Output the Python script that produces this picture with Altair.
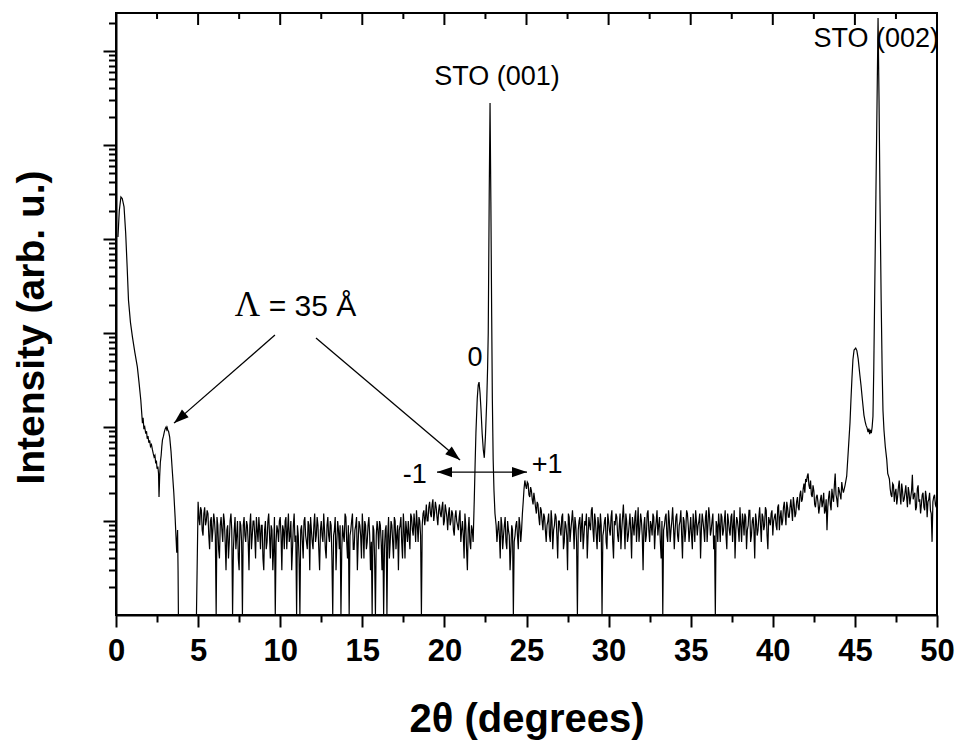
import altair as alt
import pandas as pd

# ---------------- data ----------------
low_angle = [
    (0.12, 10500), (0.2, 20000), (0.3, 28000), (0.38, 27000), (0.49, 22000),
    (0.59, 11500), (0.68, 5000), (0.76, 2240), (0.88, 1300), (1.0, 910),
    (1.15, 620), (1.3, 436), (1.4, 300), (1.51, 194), (1.61, 110), (1.65, 125),
    (1.7, 95), (1.75, 100), (1.81, 85), (1.86, 90), (1.9, 75), (1.95, 80),
    (2.0, 68), (2.05, 72), (2.1, 62), (2.16, 65), (2.22, 57), (2.27, 52),
    (2.32, 48), (2.37, 50), (2.42, 41), (2.46, 44), (2.5, 36), (2.55, 38),
    (2.59, 32), (2.62, 18), (2.66, 30), (2.7, 42), (2.75, 50), (2.79, 62),
    (2.83, 73), (2.89, 80), (2.95, 90), (3.0, 96), (3.05, 100), (3.09, 94),
    (3.12, 98), (3.16, 92), (3.2, 90), (3.27, 78), (3.35, 55), (3.44, 32),
    (3.52, 20), (3.6, 11), (3.65, 7), (3.7, 4.6), (3.75, 8), (3.78, 3),
    (3.8, 1), (4.9, 1),
]
peak_001 = [
    (21.75, 6), (21.82, 17), (21.87, 40), (21.92, 87), (22.0, 200), (22.06, 280),
    (22.11, 300), (22.17, 230), (22.23, 152), (22.3, 85), (22.37, 57), (22.43, 47),
    (22.5, 80), (22.58, 194), (22.63, 420), (22.67, 1000), (22.73, 30000),
    (22.78, 280000), (22.83, 25000), (22.88, 1500), (22.92, 200), (22.97, 45),
    (23.02, 21), (23.08, 12),
]
peak_002 = [
    (44.3, 20), (44.4, 24), (44.5, 30), (44.6, 57), (44.7, 110), (44.76, 195),
    (44.82, 330), (44.88, 520), (44.95, 660), (45.05, 690), (45.12, 650),
    (45.2, 530), (45.3, 360), (45.37, 280), (45.45, 200), (45.55, 134),
    (45.62, 115), (45.68, 104), (45.74, 98), (45.8, 88), (45.85, 96), (45.9, 84),
    (45.95, 93), (46.0, 86), (46.05, 100), (46.1, 130), (46.15, 420), (46.2, 2200),
    (46.28, 30000), (46.35, 300000), (46.41, 2240000), (46.47, 300000),
    (46.53, 25000), (46.6, 2200), (46.66, 400), (46.71, 150), (46.77, 93),
    (46.85, 62), (46.94, 45), (47.0, 32),
]
noise_a_start = 5.0
noise_a = [
    16, 9, 13, 7, 14, 10, 12, 5, 11, 8,
    10, 1, 9, 4, 11, 6, 10, 3, 9, 6,
    12, 1, 8, 5, 10, 3, 9, 1, 11, 6,
    9, 3, 12, 7, 10, 4, 8, 11, 5, 9,
    3, 10, 6, 12, 4, 8, 5, 1, 9, 6,
    11, 3, 8, 10, 5, 12, 7, 3, 9, 6,
    1, 7, 1, 9, 4, 11, 6, 10, 3, 8,
    5, 12, 7, 9, 3, 10, 6, 8, 4, 11,
    6, 9, 1, 8, 3, 10, 5, 1, 9, 6,
    11, 4, 1, 8, 12, 5, 9, 3, 10, 7,
    12, 4, 9, 6, 11, 3, 1, 8, 1, 10,
    5, 9, 3, 1, 8, 1, 11, 6, 9, 4,
    10, 7, 3, 9, 6, 12, 4, 8, 10, 5,
    11, 7, 9, 13, 6, 10, 1, 12, 9, 15,
    10, 16, 11, 17, 12, 14, 9, 15, 11, 16,
    10, 13, 8, 14, 10, 12, 7, 13, 9, 11,
    6, 10, 4, 9, 3, 11, 5, 8,
]
noise_a2_start = 5.05
noise_a2 = [
    11, 14, 8, 12, 9, 13, 7, 10, 6, 12,
    7, 11, 5, 9, 8, 12, 6, 8, 4, 10,
    8, 5, 11, 7, 4, 10, 6, 9, 7, 10,
    6, 9, 5, 10, 7, 11, 6, 8, 9, 4,
    8, 5, 10, 7, 9, 3, 11, 6, 8, 10,
    7, 9, 5, 11, 8, 6, 10, 5, 12, 7,
    9, 4, 8, 6, 10, 7, 5, 9, 11, 6,
    9, 6, 11, 5, 8, 7, 12, 5, 9, 7,
    10, 4, 7, 11, 6, 8, 9, 5, 7, 12,
    6, 9, 7, 10, 5, 8, 11, 6, 9, 4,
    8, 10, 5, 9, 7, 6, 9, 4, 7, 8,
    10, 6, 8, 5, 9, 7, 4, 10, 6, 11,
    5, 9, 8, 11, 4, 8, 10, 6, 7, 12,
    8, 12, 6, 9, 11, 7, 9, 13, 11, 10,
    14, 12, 15, 10, 16, 11, 13, 12, 14, 9,
    15, 11, 12, 9, 13, 8, 11, 10, 8, 13,
    8, 7, 12, 5, 8, 6, 9,
]
noise_b_start = 23.2
noise_b = [6, 10, 4, 9, 7, 11, 5, 8, 3, 9, 1, 7, 10, 5, 9, 8]
noise_b2_start = 23.15
noise_b2 = [9, 8, 7, 11, 5, 9, 6, 10, 7, 5, 8, 6, 9, 7, 11, 6, 12]
noise_c_start = 24.8
noise_c = [
    16, 27,
    22, 25, 18, 21, 15, 17, 12, 15, 9, 13,
    8, 11, 6, 10, 7, 13, 5, 9, 11, 4,
    10, 7, 12, 6, 9, 3, 11, 8, 13, 5,
    9, 1, 10, 6, 12, 7, 9, 4, 11, 8,
    14, 6, 10, 5, 9, 12, 1, 8, 11, 5,
    10, 7, 13, 4, 9, 11, 6, 12, 8, 15,
    5, 10, 7, 12, 4, 9, 11, 6, 14, 8,
    10, 3, 11, 7, 13, 6, 9, 12, 5, 10,
    7, 11, 4, 1, 9, 12, 6, 10, 8, 14,
    5, 11, 7, 9, 13, 4, 10, 8, 12, 6,
    11, 5, 9, 13, 7, 10, 4, 12, 8, 11,
    6, 14, 7, 10, 5, 1, 9, 12, 6, 11,
    8, 13, 5, 10, 7, 12, 9, 4, 11, 8,
    14, 6, 10, 12, 5, 9, 13, 7, 11, 4,
    10, 8, 14, 6, 11, 9, 13, 5, 10, 12,
    7, 11, 9, 14, 8, 13, 10, 16, 9, 14,
    11, 17, 10, 15, 12, 18, 13, 21, 17, 25,
    28, 30, 24, 27, 18, 21, 14, 19, 12, 17,
    14, 20, 13, 8, 18, 15, 22, 16, 32, 17,
    23, 19, 26,
]
noise_c2_start = 24.85
noise_c2 = [
    22, 24,
    26, 19, 23, 17, 20, 14, 16, 11, 14, 10,
    12, 8, 9, 12, 6, 10, 8, 12, 7, 10,
    8, 11, 5, 10, 7, 12, 6, 10, 9, 11,
    6, 8, 11, 9, 5, 10, 12, 7, 9, 13,
    8, 12, 7, 11, 6, 9, 7, 10, 6, 12,
    8, 11, 6, 10, 12, 7, 9, 5, 11, 9,
    12, 6, 9, 8, 11, 7, 13, 9, 6, 12,
    7, 9, 6, 12, 8, 10, 7, 11, 8, 13,
    9, 6, 10, 8, 11, 7, 13, 6, 10, 9,
    8, 12, 6, 10, 7, 11, 6, 13, 9, 8,
    7, 12, 6, 10, 9, 12, 8, 10, 6, 13,
    9, 11, 8, 12, 7, 10, 6, 9, 12, 7,
    10, 7, 12, 8, 11, 6, 13, 8, 10, 6,
    9, 12, 7, 11, 8, 13, 6, 10, 8, 12,
    7, 11, 9, 12, 8, 14, 7, 11, 9, 13,
    10, 12, 8, 15, 11, 9, 14, 12, 16, 11,
    14, 13, 18, 11, 16, 14, 19, 16, 22, 20,
    26, 32, 22, 19, 24, 15, 18, 16, 14, 19,
    16, 12, 17, 14, 21, 13, 18, 24, 19, 14,
    21, 17, 22,
]
noise_d_start = 47.1
noise_d = [28, 19, 25, 16, 22, 18, 27, 15, 21, 17, 24, 14, 20, 18, 31,
           19, 13, 22, 16, 12, 19, 14, 21, 11, 17, 13, 6, 18, 15, 20]
noise_d2_start = 47.05
noise_d2 = [30, 22, 18, 24, 20, 15, 23, 19, 25, 16, 20, 18, 23, 15, 21,
            17, 20, 14, 24, 17, 15, 20, 13, 18, 16, 20, 12, 16, 19, 14]

label_text = ["STO (001)", "STO (002)", "0", "-1", "+1"]
label_x = [23.2, 46.3, 21.86, 18.2, 26.25]
label_y = [435000, 1100000, 446, 25.4, 32.4]
spacing_text = ["= 35 Å"]
spacing_x = [9.3]
spacing_y = [1517]
lambda_x = [8.0]
lambda_y = [1517]
arrow_x = [9.68, 12.18, 19.55]
arrow_y = [952, 885, 33.2]
arrow_x2 = [3.53, 20.95, 25.03]
arrow_y2 = [110, 44.6, 33.2]
head_x = [3.53, 20.95, 19.55, 25.03]
head_y = [110, 44.6, 33.2, 33.2]
head_angle = [229, 130, 270, 90]

x_major = [0, 5, 10, 15, 20, 25, 30, 35, 40, 45, 50]
x_minor = [2.5, 7.5, 12.5, 17.5, 22.5, 27.5, 32.5, 37.5, 42.5, 47.5]
y_major = [10, 100, 1000, 10000, 100000, 1000000]
y_minor = [m * 10 ** k for k in range(0, 7) for m in range(2, 10) if m * 10 ** k < 2.5e6]

rows = list(low_angle) + list(peak_001) + list(peak_002)
for start, vals in [(noise_a_start, noise_a), (noise_a2_start, noise_a2),
                    (noise_b_start, noise_b), (noise_b2_start, noise_b2),
                    (noise_c_start, noise_c), (noise_c2_start, noise_c2),
                    (noise_d_start, noise_d), (noise_d2_start, noise_d2)]:
    rows += [(round(start + 0.1 * i, 2), v) for i, v in enumerate(vals)]
df = pd.DataFrame(rows, columns=["x", "c"]).sort_values("x")

labels_df = pd.DataFrame({"t": label_text, "x": label_x, "y": label_y})
spacing_df = pd.DataFrame({"t": spacing_text, "x": spacing_x, "y": spacing_y})
lam_df = pd.DataFrame({"t": ["Λ"], "x": lambda_x, "y": lambda_y})
arrows_df = pd.DataFrame({"x": arrow_x, "y": arrow_y, "x2": arrow_x2, "y2": arrow_y2})
heads_df = pd.DataFrame({"x": head_x, "y": head_y, "a": head_angle})
top_major_df = pd.DataFrame({"x": x_major})
top_minor_df = pd.DataFrame({"x": x_minor})

FONT = "Liberation Sans"
xs = alt.Scale(domain=[0, 50], nice=False, zero=False)
ys = alt.Scale(type="log", domain=[1, 2.54e6], nice=False)

ax_bottom = alt.Axis(orient="bottom", values=x_major, tickSize=12, labelFont=FONT,
                     labelFontWeight="bold", labelFontSize=31, labelPadding=9,
                     labelFlush=False, labelColor="black", title="2θ (degrees)",
                     titleFont=FONT, titleFontSize=40, titleFontWeight="bold",
                     titleY=116, titleBaseline="alphabetic", titleColor="black",
                     grid=False, domainWidth=2, tickWidth=2, domainColor="black",
                     tickColor="black")
ax_bottom_minor = alt.Axis(orient="bottom", values=x_minor, tickSize=7, labels=False,
                           domain=False, title=None, grid=False, tickWidth=2,
                           tickColor="black")
ax_left = alt.Axis(orient="left", values=y_major, tickSize=13, labels=False,
                   title="Intensity (arb. u.)", titleFont=FONT, titleFontSize=39,
                   titleFontWeight="bold", titleX=-85, titleY=314, titleAngle=270,
                   titleBaseline="middle", titleAlign="center", titleColor="black",
                   grid=False, domainWidth=2, tickWidth=2, domainColor="black",
                   tickColor="black")
ax_left_minor = alt.Axis(orient="left", values=y_minor, tickSize=7.5, labels=False,
                         domain=False, title=None, grid=False, tickWidth=2,
                         tickColor="black")

line = alt.Chart(df).mark_line(color="black", strokeWidth=1.2, clip=True).encode(
    x=alt.X("x:Q", scale=xs, axis=ax_bottom),
    y=alt.Y("c:Q", scale=ys, axis=ax_left),
)
arrows = alt.Chart(arrows_df).mark_rule(color="black", strokeWidth=1.3).encode(
    x=alt.X("x:Q", scale=xs, axis=ax_bottom_minor),
    y=alt.Y("y:Q", scale=ys, axis=ax_left_minor),
    x2="x2:Q",
    y2="y2:Q",
)
heads = alt.Chart(heads_df).mark_point(
    shape="M0,0 L0.34,1 L-0.34,1 Z", filled=True, size=900, color="black", opacity=1
).encode(
    x=alt.X("x:Q", scale=xs, axis=None),
    y=alt.Y("y:Q", scale=ys, axis=None),
    angle=alt.Angle("a:Q", scale=None),
)
# inward ticks of the top frame
top_major = alt.Chart(top_major_df).mark_rule(color="black", strokeWidth=2).encode(
    x=alt.X("x:Q", scale=xs, axis=None),
    y=alt.value(0),
    y2=alt.value(12),
)
top_minor = alt.Chart(top_minor_df).mark_rule(color="black", strokeWidth=2).encode(
    x=alt.X("x:Q", scale=xs, axis=None),
    y=alt.value(0),
    y2=alt.value(6),
)
texts = alt.Chart(labels_df).mark_text(
    font=FONT, fontSize=27, align="center", baseline="alphabetic", color="black"
).encode(
    x=alt.X("x:Q", scale=xs, axis=None),
    y=alt.Y("y:Q", scale=ys, axis=None),
    text="t:N",
)
spacing = alt.Chart(spacing_df).mark_text(
    font=FONT, fontSize=30, align="left", baseline="alphabetic", color="black"
).encode(
    x=alt.X("x:Q", scale=xs, axis=None),
    y=alt.Y("y:Q", scale=ys, axis=None),
    text="t:N",
)
lam = alt.Chart(lam_df).mark_text(
    font="Liberation Serif", fontSize=35, align="center", baseline="alphabetic",
    color="black"
).encode(
    x=alt.X("x:Q", scale=xs, axis=None),
    y=alt.Y("y:Q", scale=ys, axis=None),
    text="t:N",
)

chart = alt.layer(line, arrows, heads, top_major, top_minor, texts, spacing, lam).resolve_axis(
    x="independent", y="independent"
).properties(
    width=821, height=602,
    padding={"left": 116, "top": 13, "right": 20, "bottom": 125},
    autosize=alt.AutoSizeParams(type="none"),
    background="white",
).configure_view(stroke="black", strokeWidth=2)

chart.save("out.html", embed_options={"renderer": "svg", "actions": False})
